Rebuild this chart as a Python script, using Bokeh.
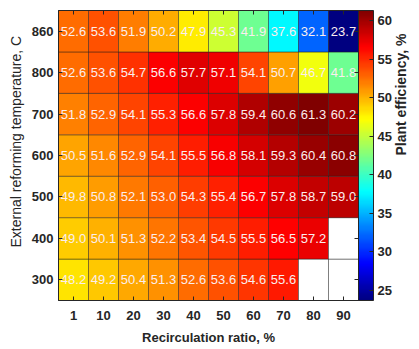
import math
import numpy as np
from bokeh.plotting import figure
from bokeh.models import (ColumnDataSource, LinearColorMapper, ColorBar, FixedTicker,
                          LinearAxis, Title, Range1d)
from bokeh.core.properties import value
from bokeh.embed import file_html
from bokeh.resources import INLINE

# Recirculation ratio (%) along x, external reforming temperature (C) along y
ratios = ["1", "10", "20", "30", "40", "50", "60", "70", "80", "90"]
temps = ["300", "400", "500", "600", "700", "800", "860"]
nan = float("nan")

# Plant efficiency (%) per temperature row, one value per recirculation ratio
eff_300 = [48.2, 49.2, 50.4, 51.3, 52.6, 53.6, 54.6, 55.6, nan, nan]
eff_400 = [49.0, 50.1, 51.3, 52.2, 53.4, 54.5, 55.5, 56.5, 57.2, nan]
eff_500 = [49.8, 50.8, 52.1, 53.0, 54.3, 55.4, 56.7, 57.8, 58.7, 59.0]
eff_600 = [50.5, 51.6, 52.9, 54.1, 55.5, 56.8, 58.1, 59.3, 60.4, 60.8]
eff_700 = [51.8, 52.9, 54.1, 55.3, 56.6, 57.8, 59.4, 60.6, 61.3, 60.2]
eff_800 = [52.6, 53.6, 54.7, 56.6, 57.7, 57.1, 54.1, 50.7, 46.7, 41.8]
eff_860 = [52.6, 53.6, 51.9, 50.2, 47.9, 45.3, 41.9, 37.6, 32.1, 23.7]
eff_rows = [eff_300, eff_400, eff_500, eff_600, eff_700, eff_800, eff_860]
cbar_ticks = [25, 30, 35, 40, 45, 50, 55, 60]

FONT = "Liberation Sans"
INK = "#262626"

# jet colormap
def jet(n=256):
    cols = []
    for i in range(n):
        t = i / (n - 1)
        r = min(max(1.5 - abs(4 * t - 3), 0), 1)
        g = min(max(1.5 - abs(4 * t - 2), 0), 1)
        b = min(max(1.5 - abs(4 * t - 1), 0), 1)
        cols.append("#%02x%02x%02x" % (int(round(r * 255)), int(round(g * 255)), int(round(b * 255))))
    return cols

xs, ys, vals, labels = [], [], [], []
for j, row in enumerate(eff_rows):
    for i, v in enumerate(row):
        xs.append(i)
        ys.append(j)
        vals.append(v)
        labels.append("" if math.isnan(v) else f"{v:.1f}")

src = ColumnDataSource(dict(x=xs, y=ys, v=vals, label=labels))
finite = [v for v in vals if not math.isnan(v)]
mapper = LinearColorMapper(palette=jet(256), low=min(finite), high=max(finite), nan_color="white")

p = figure(width=419, height=349, x_range=Range1d(-0.5, 9.5), y_range=Range1d(-0.5, 6.5),
           output_backend="svg", toolbar_location=None,
           min_border_left=53, min_border_top=10, min_border_bottom=49, min_border_right=58)
p.grid.visible = False
p.outline_line_color = INK
p.outline_line_width = 1

p.rect(x="x", y="y", width=1, height=1, source=src,
       fill_color={"field": "v", "transform": mapper},
       line_color="#1a1a1a", line_alpha=0.55, line_width=0.8)

p.text(x="x", y="y", text="label", source=src, text_align="center", text_baseline="middle",
       text_color="#fbeeee", text_font=value(FONT), text_font_size="13px")

for ax, names in ((p.xaxis[0], ratios), (p.yaxis[0], temps)):
    ax.ticker = FixedTicker(ticks=list(range(len(names))))
    ax.major_label_overrides = {i: n for i, n in enumerate(names)}
    ax.major_tick_in = 4
    ax.major_tick_out = 0
    ax.minor_tick_line_color = None
    ax.axis_line_color = INK
    ax.major_tick_line_color = INK
    ax.major_label_text_font = FONT
    ax.major_label_text_font_size = "13px"
    ax.major_label_text_font_style = "bold"
    ax.major_label_text_color = INK

p.xaxis.major_label_standoff = 10
p.yaxis.major_label_standoff = 5
p.xaxis.axis_label = "Recirculation ratio, %"
p.xaxis.axis_label_text_font = FONT
p.xaxis.axis_label_text_font_size = "13px"
p.xaxis.axis_label_text_font_style = "bold"
p.xaxis.axis_label_text_color = INK
p.xaxis.axis_label_standoff = 7

# mirrored tick marks on the top and right edges of the frame
def mirror_axis(n):
    return LinearAxis(ticker=FixedTicker(ticks=list(range(n))), major_tick_in=4, major_tick_out=0,
                      minor_tick_line_color=None, major_label_text_font_size="1px",
                      major_label_text_color=None, major_label_standoff=0,
                      axis_line_color=INK, major_tick_line_color=INK)

p.add_layout(mirror_axis(len(ratios)), "above")
p.add_layout(mirror_axis(len(temps)), "right")

cb = ColorBar(color_mapper=mapper, width=15, padding=0, margin=6,
              ticker=FixedTicker(ticks=cbar_ticks), background_fill_color=None,
              major_tick_in=4, major_tick_out=0, major_tick_line_color=INK,
              bar_line_color=INK, label_standoff=4,
              major_label_text_font=FONT, major_label_text_font_size="13px",
              major_label_text_font_style="bold", major_label_text_color=INK)
p.add_layout(cb, "right")

# colour bar title, reading upwards
cb_title = LinearAxis(ticker=FixedTicker(ticks=[]), axis_line_color=None, major_tick_line_color=None,
                      minor_tick_line_color=None, axis_label="Plant efficiency, %",
                      axis_label_orientation=math.pi / 2, axis_label_standoff=6,
                      axis_label_text_font=FONT, axis_label_text_font_size="14px",
                      axis_label_text_font_style="bold", axis_label_text_color=INK)
p.add_layout(cb_title, "right")

p.add_layout(Title(text="External reforming temperature, C", align="left", offset=53,
                   text_font=FONT, text_font_size="14px", text_font_style="normal",
                   text_color=INK), "left")

open("out.html", "w").write(file_html(p, INLINE))
